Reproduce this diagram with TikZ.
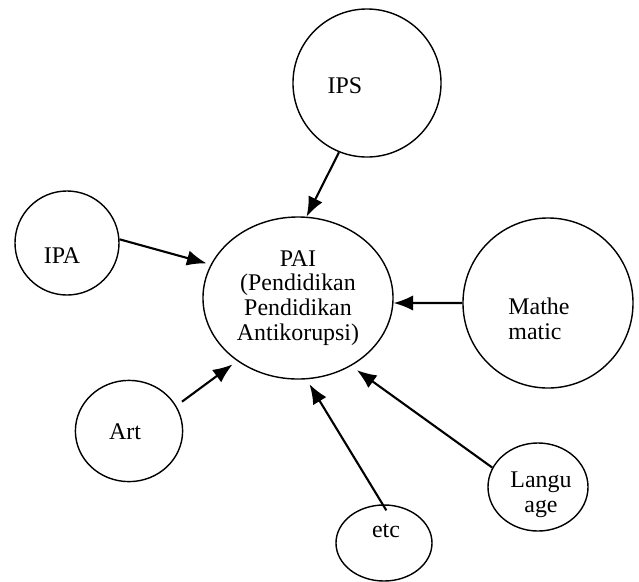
\documentclass[tikz,border=0pt]{standalone}
\usepackage{fontspec}
\setmainfont{Liberation Serif}
\usetikzlibrary{shapes.geometric,arrows.meta}
\tikzset{every node/.style={circle,draw,line width=1pt,inner sep=0pt}}
\tikzset{e/.style={ellipse}}
\tikzset{t/.style={rectangle,draw=none}}
\tikzset{a/.style={line width=1.5pt,-{Latex[length=14pt,width=11pt]}}}

\begin{document}
\begin{tikzpicture}[x=0.025cm,y=-0.025cm,font=\fontsize{17}{17.7}\selectfont]
  \useasboundingbox (0,0) rectangle (639,581);
      \node[e,minimum width=4.75cm,minimum height=4.05cm,align=center] (pai) at (298,298)
        {PAI\\(Pendidikan\\Pendidikan\\Antikorupsi)};
      \node[minimum size=3.7cm] (ips) at (367,83) {};
      \node[minimum size=2.6cm] (ipa) at (67,243) {};
      \node[minimum size=4.25cm] (math) at (548,303) {};
      \node[e,minimum width=2.68cm,minimum height=2.53cm] (art) at (129,431) {};
      \node[e,minimum width=2.4cm,minimum height=1.9cm] (etc) at (384,543) {};
      \node[e,minimum width=2.5cm,minimum height=2.2cm] (lang) at (538,487) {};
        \node[t] (ipsT) at (345,86) {IPS};
        \node[t] (ipaT) at (62,256) {IPA};
        \node[t,align=left] (mathT) at (539,319) {Mathe\\matic};
        \node[t] (artT) at (125,432) {Art};
        \node[t] (etcT) at (386,531) {etc};
        \node[t,align=center] (langT) at (541,495) {Langu\\ age};
      \draw[a] (ips.248) -- (pai.84);
      \draw[a,shorten >=3pt] (ipa.4) -- (pai.159);
      \draw[a] (math.west) -- (pai.-3);
      \draw[a,shorten <=5pt,shorten >=4pt] (art.28) -- (pai.226);
      \draw[a,shorten <=-5pt,shorten >=4pt] (etc.92) -- (pai.276);
      \draw[a,shorten >=5pt] (lang.157) -- (pai.-52);
    \end{tikzpicture}
\end{document}
